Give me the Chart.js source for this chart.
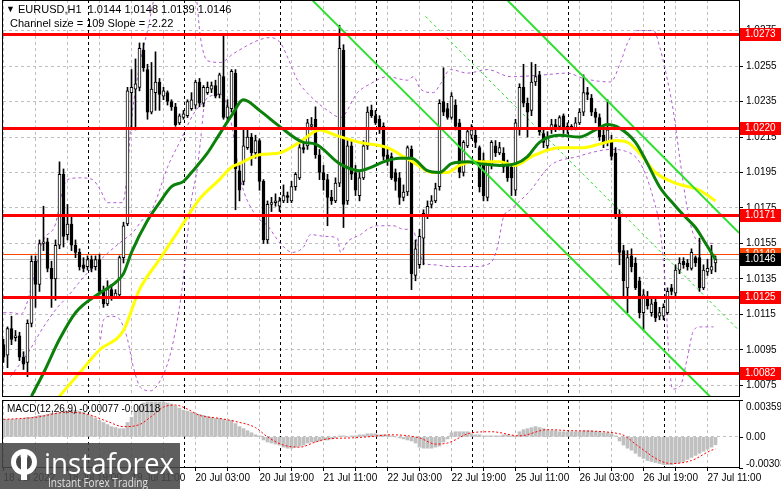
<!DOCTYPE html>
<html><head><meta charset="utf-8">
<script src="https://cdn.jsdelivr.net/npm/chart.js@4.4.0/dist/chart.umd.min.js"></script>
<style>
html,body{margin:0;padding:0;background:#fff;width:781px;height:489px;overflow:hidden}
#w{position:relative;width:781px;height:489px;background:#fff}
#c1{position:absolute;left:0;top:0}
#c2{position:absolute;left:0;top:398px}
</style></head><body><div id="w"><canvas id="c1" width="781" height="398"></canvas><canvas id="c2" width="781" height="91"></canvas></div>
<script>
// ---------- DATA ----------
const symbolTitle = 'EURUSD,H1  1.0144 1.0148 1.0139 1.0146';
const channelTitle = 'Channel size = 109 Slope = -2.22';
const macdTitle = 'MACD(12,26,9) -0.00077 -0.00118';
const timeLabels = ['18 Jul 2022','18 Jul 19:00','19 Jul 11:00','20 Jul 03:00','20 Jul 19:00','21 Jul 11:00','22 Jul 03:00','22 Jul 19:00','25 Jul 11:00','26 Jul 03:00','26 Jul 19:00','27 Jul 11:00'];
const dayStartIdx = [21,45,69,93,117,141,165];
const priceTicks = [1.0075,1.0095,1.0115,1.0135,1.0155,1.0175,1.0195,1.0215,1.0235,1.0255,1.0275];
const levels = [1.0273,1.0220,1.0171,1.0125,1.0082];
const askPrice = 1.0149, bidPrice = 1.0146;
const macdTickLabels = ['0.00359','0.00','-0.00303'];
const macdMax = 0.00359, macdMin = -0.00303;

const opens = [1.0098,1.0092,1.0107,1.0102,1.0103,1.0091,1.0088,1.0110,1.0145,1.0132,1.0155,1.0156,1.0141,1.0135,1.0154,1.0194,1.0160,1.0166,1.0154,1.0150,
1.0143,1.0142,1.0146,1.0142,1.0146,1.0128,1.0121,1.0129,1.0125,1.0126,1.0147,1.0166,1.0240,1.0242,1.0243,1.0264,1.0253,1.0229,1.0240,1.0246,
1.0238,1.0240,1.0235,1.0232,1.0223,1.0226,1.0227,1.0231,1.0233,1.0246,1.0234,1.0240,1.0242,1.0244,1.0239,1.0249,1.0226,1.0231,1.0251,1.0196,
1.0190,1.0209,1.0215,1.0206,1.0213,1.0190,1.0157,1.0177,1.0178,1.0176,1.0179,1.0182,1.0179,1.0187,1.0192,1.0209,1.0210,1.0221,1.0225,1.0205,
1.0195,1.0191,1.0181,1.0179,1.0189,1.0264,1.0179,1.0210,1.0195,1.0182,1.0192,1.0210,1.0230,1.0227,1.0225,1.0221,1.0205,1.0204,1.0195,1.0192,
1.0181,1.0184,1.0208,1.0137,1.0143,1.0158,1.0171,1.0177,1.0179,1.0187,1.0235,1.0231,1.0226,1.0233,1.0223,1.0195,1.0210,1.0216,1.0216,1.0209,
1.0202,1.0181,1.0199,1.0210,1.0206,1.0206,1.0199,1.0198,1.0185,1.0219,1.0243,1.0234,1.0230,1.0246,1.0250,1.0217,1.0210,1.0219,1.0222,1.0221,
1.0227,1.0219,1.0221,1.0220,1.0223,1.0229,1.0240,1.0237,1.0229,1.0226,1.0216,1.0212,1.0213,1.0206,1.0171,1.0151,1.0130,1.0148,1.0144,1.0134,
1.0116,1.0125,1.0116,1.0122,1.0114,1.0114,1.0116,1.0130,1.0127,1.0140,1.0145,1.0144,1.0141,1.0147,1.0147,1.0130,1.0139,1.0140,1.0144];
const highs = [1.0101,1.0108,1.0114,1.0106,1.0105,1.0094,1.0112,1.0148,1.0148,1.0157,1.0176,1.0158,1.0145,1.0157,1.0201,1.0197,1.0177,1.0171,1.0157,1.0152,
1.0147,1.0148,1.0148,1.0148,1.0149,1.0131,1.0134,1.0132,1.0129,1.0148,1.0167,1.0243,1.0253,1.0259,1.0268,1.0268,1.0256,1.0257,1.0263,1.0248,
1.0243,1.0241,1.0236,1.0234,1.0228,1.0230,1.0236,1.0240,1.0247,1.0248,1.0244,1.0246,1.0246,1.0247,1.0251,1.0272,1.0236,1.0253,1.0253,1.0199,
1.0220,1.0219,1.0217,1.0216,1.0214,1.0191,1.0179,1.0181,1.0183,1.0181,1.0188,1.0184,1.0190,1.0195,1.0212,1.0212,1.0225,1.0226,1.0232,1.0208,
1.0199,1.0194,1.0185,1.0192,1.0278,1.0267,1.0213,1.0213,1.0199,1.0195,1.0213,1.0232,1.0233,1.0230,1.0227,1.0223,1.0208,1.0206,1.0197,1.0195,
1.0188,1.0210,1.0210,1.0157,1.0163,1.0174,1.0179,1.0182,1.0189,1.0236,1.0254,1.0234,1.0240,1.0236,1.0225,1.0213,1.0220,1.0222,1.0219,1.0210,
1.0206,1.0201,1.0213,1.0213,1.0212,1.0209,1.0202,1.0200,1.0225,1.0245,1.0256,1.0237,1.0257,1.0256,1.0252,1.0220,1.0218,1.0225,1.0225,1.0227,
1.0228,1.0223,1.0222,1.0226,1.0231,1.0250,1.0243,1.0239,1.0231,1.0228,1.0219,1.0236,1.0216,1.0209,1.0174,1.0154,1.0151,1.0152,1.0147,1.0136,
1.0129,1.0128,1.0124,1.0124,1.0119,1.0121,1.0130,1.0132,1.0143,1.0147,1.0147,1.0146,1.0152,1.0148,1.0158,1.0143,1.0146,1.0154,1.0148];
const lows = [1.0088,1.0085,1.0098,1.0100,1.0089,1.0084,1.0080,1.0108,1.0119,1.0128,1.0151,1.0139,1.0119,1.0123,1.0152,1.0153,1.0157,1.0151,1.0147,1.0140,
1.0139,1.0140,1.0139,1.0140,1.0126,1.0119,1.0120,1.0123,1.0125,1.0125,1.0144,1.0165,1.0219,1.0219,1.0241,1.0252,1.0225,1.0228,1.0230,1.0230,
1.0236,1.0233,1.0230,1.0221,1.0222,1.0225,1.0226,1.0230,1.0231,1.0232,1.0232,1.0239,1.0240,1.0237,1.0237,1.0225,1.0223,1.0229,1.0174,1.0179,
1.0188,1.0208,1.0199,1.0203,1.0185,1.0155,1.0155,1.0173,1.0176,1.0173,1.0178,1.0178,1.0178,1.0185,1.0191,1.0206,1.0208,1.0219,1.0203,1.0191,
1.0185,1.0165,1.0177,1.0178,1.0187,1.0164,1.0177,1.0191,1.0182,1.0179,1.0191,1.0208,1.0226,1.0222,1.0217,1.0202,1.0199,1.0191,1.0185,1.0177,
1.0179,1.0182,1.0129,1.0134,1.0141,1.0143,1.0169,1.0175,1.0178,1.0185,1.0227,1.0225,1.0225,1.0219,1.0192,1.0193,1.0209,1.0214,1.0209,1.0184,
1.0179,1.0179,1.0197,1.0204,1.0205,1.0195,1.0190,1.0182,1.0182,1.0216,1.0232,1.0215,1.0227,1.0244,1.0216,1.0209,1.0208,1.0217,1.0218,1.0219,
1.0217,1.0217,1.0219,1.0219,1.0222,1.0227,1.0236,1.0227,1.0223,1.0213,1.0209,1.0210,1.0202,1.0169,1.0143,1.0124,1.0116,1.0139,1.0129,1.0113,
1.0106,1.0118,1.0114,1.0111,1.0112,1.0112,1.0115,1.0126,1.0125,1.0138,1.0141,1.0140,1.0140,1.0142,1.0128,1.0129,1.0137,1.0138,1.0139];
const closes = [1.0091,1.0107,1.0101,1.0103,1.0091,1.0087,1.0110,1.0145,1.0132,1.0155,1.0156,1.0141,1.0135,1.0154,1.0194,1.0159,1.0166,1.0154,1.0150,1.0142,
1.0141,1.0146,1.0141,1.0146,1.0128,1.0121,1.0129,1.0125,1.0127,1.0147,1.0165,1.0241,1.0243,1.0245,1.0265,1.0254,1.0229,1.0242,1.0246,1.0239,
1.0241,1.0235,1.0232,1.0222,1.0227,1.0228,1.0235,1.0236,1.0246,1.0234,1.0243,1.0243,1.0244,1.0238,1.0250,1.0226,1.0232,1.0252,1.0197,1.0185,
1.0210,1.0215,1.0206,1.0213,1.0190,1.0157,1.0177,1.0178,1.0179,1.0179,1.0182,1.0181,1.0187,1.0194,1.0209,1.0208,1.0223,1.0222,1.0205,1.0195,
1.0191,1.0181,1.0179,1.0189,1.0265,1.0177,1.0210,1.0194,1.0185,1.0192,1.0210,1.0229,1.0227,1.0223,1.0219,1.0204,1.0202,1.0192,1.0190,1.0181,
1.0184,1.0209,1.0138,1.0152,1.0159,1.0172,1.0176,1.0179,1.0186,1.0234,1.0229,1.0226,1.0238,1.0221,1.0195,1.0212,1.0218,1.0219,1.0212,1.0187,
1.0182,1.0201,1.0212,1.0206,1.0209,1.0198,1.0192,1.0192,1.0223,1.0243,1.0234,1.0229,1.0246,1.0249,1.0218,1.0212,1.0215,1.0222,1.0220,1.0226,
1.0219,1.0221,1.0220,1.0223,1.0229,1.0240,1.0239,1.0229,1.0226,1.0215,1.0212,1.0219,1.0204,1.0171,1.0150,1.0134,1.0147,1.0142,1.0130,1.0116,
1.0126,1.0120,1.0121,1.0113,1.0116,1.0119,1.0128,1.0128,1.0140,1.0144,1.0143,1.0142,1.0150,1.0144,1.0130,1.0140,1.0141,1.0142,1.0146];

// moving averages / bands / channel read at sample candles: [candle index, price]
const greenMa = [[7,1.0069],[10,1.0082],[14,1.0101],[18,1.0116],[24,1.0127],[28,1.0133],[30,1.0138],[32,1.0150],[36,1.0168],[39,1.0178],[42,1.0187],[45,1.0190],[47,1.0195],[51,1.0206],[53,1.0213],[57,1.0227],[60,1.0236],[64,1.0230],[69,1.0221],[75,1.0212],[78,1.0211],[84,1.0200],[89,1.0196],[92,1.0198],[95,1.0201],[99,1.0203],[102,1.0203],[106,1.0196],[109,1.0195],[112,1.0200],[116,1.0201],[119,1.0200],[124,1.0199],[128,1.0200],[131,1.0204],[134,1.0212],[139,1.0216],[144,1.0215],[148,1.0219],[151,1.0222],[154,1.0220],[158,1.0212],[161,1.0200],[164,1.0187],[168,1.0176],[170,1.0171],[173,1.0164],[175,1.0157],[178,1.0146]];
const yellowMa = [[14,1.0069],[19,1.0082],[24,1.0095],[30,1.0106],[34,1.0129],[39,1.0146],[44,1.0163],[49,1.0180],[54,1.0191],[57,1.0198],[59,1.0200],[64,1.0205],[69,1.0206],[74,1.0212],[79,1.0219],[83,1.0216],[89,1.0212],[96,1.0209],[100,1.0204],[103,1.0200],[107,1.0195],[111,1.0195],[114,1.0199],[118,1.0201],[124,1.0201],[128,1.0199],[132,1.0204],[139,1.0209],[145,1.0209],[149,1.0211],[153,1.0213],[156,1.0212],[159,1.0206],[163,1.0195],[168,1.0189],[174,1.0185],[178,1.0179]];
const bandUpper = [[0,1.0116],[2.5,1.0116],[4.25,1.0115],[10,1.0157],[13,1.0166],[14.75,1.0185],[16,1.0191],[19.25,1.0192],[22.25,1.0191],[24.25,1.0185],[26,1.0178],[29.75,1.0178],[31,1.0196],[31.75,1.0219],[34.25,1.0258],[36,1.0275],[37.25,1.0289],[39.25,1.0309],[44.25,1.0315],[48,1.0298],[49.25,1.0271],[51,1.0258],[54.25,1.0257],[57.5,1.0262],[64.25,1.0270],[66.75,1.0271],[69.25,1.0268],[71,1.0260],[73.5,1.0247],[76.75,1.0238],[81,1.0230],[84.25,1.0226],[88.5,1.0240],[91.75,1.0245],[96,1.0249],[101,1.0247],[102.5,1.0249],[104.25,1.0242],[107.5,1.0240],[109.25,1.0245],[111.75,1.0253],[116,1.0251],[121,1.0253],[126.75,1.0249],[135,1.0250],[141,1.0251],[145,1.0248],[151.75,1.0246],[154.25,1.0257],[156,1.0268],[158.5,1.0275],[162.5,1.0275],[164.25,1.0264],[166,1.0247],[167.5,1.0229],[169.25,1.0200],[171,1.0174],[172.5,1.0160],[174.25,1.0156],[177.5,1.0155]];
const bandLower = [[24.25,1.0101],[25,1.0112],[26.75,1.0114],[28.75,1.0113],[30,1.0108],[31,1.0101],[32.5,1.0085],[34.25,1.0074],[36.75,1.0072],[39.25,1.0078],[41.75,1.0093],[44.25,1.0123],[45.5,1.0147],[46.75,1.0176],[48.5,1.0198],[49.25,1.0213],[50.5,1.0236],[54.25,1.0239],[56.75,1.0225],[59.25,1.0191],[63,1.0171],[66,1.0165],[69.25,1.0155],[72.25,1.0150],[75,1.0153],[76.75,1.0160],[80.5,1.0159],[83.5,1.0158],[84.25,1.0150],[86,1.0156],[89.25,1.0160],[91,1.0163],[93.5,1.0165],[97.5,1.0165],[100,1.0163],[102.25,1.0163],[103.5,1.0155],[105,1.0144],[107.5,1.0143],[111.75,1.0142],[117.5,1.0142],[121.75,1.0144],[123.5,1.0153],[125,1.0170],[126.75,1.0174],[131.75,1.0185],[136.75,1.0199],[143.5,1.0204],[148.5,1.0207],[151.75,1.0208],[155.5,1.0207],[159.25,1.0200],[162.5,1.0180],[164.25,1.0161],[165.5,1.0129],[166.25,1.0095],[167.25,1.0073],[169.25,1.0075],[171,1.0091],[172.5,1.0106],[174.25,1.0108],[177.5,1.0108]];
const bandExtra = [[1.75,1.0080],[6,1.0093],[10,1.0108],[13.5,1.0119],[16,1.0125],[19.25,1.0134],[22.5,1.0142],[26.75,1.0151],[30,1.0157],[32.25,1.0161],[34.25,1.0167],[37.5,1.0176],[41,1.0198],[44.25,1.0213],[47.5,1.0228],[50.5,1.0236]];
const channelLow = [[77.25,1.0292],[176.75,1.00685]];
const channelHigh = [[126,1.0292],[183.875,1.0161]];
const channelMid = [[105.5,1.0283],[183.875,1.0106]];

const macdHist = [0.0017,0.0017,0.0017,0.0017,0.0017,0.0018,0.0019,0.0019,0.0020,0.0021,0.0021,0.0022,0.0023,0.0023,0.0024,0.0025,0.0025,0.0026,0.0026,0.0025,
0.0024,0.0022,0.0020,0.0018,0.0016,0.0014,0.0012,0.0010,0.0009,0.0008,0.0008,0.0014,0.0019,0.0025,0.0030,0.0033,0.0034,0.0034,0.0034,0.0034,
0.0034,0.0033,0.0032,0.0030,0.0028,0.0026,0.0025,0.0024,0.0023,0.0022,0.0021,0.0020,0.0019,0.0018,0.0018,0.0017,0.0016,0.0016,0.0013,0.0010,
0.0008,0.0006,0.0004,0.0002,0.0001,-0.0003,-0.0005,-0.0006,-0.0007,-0.0008,-0.0010,-0.0011,-0.0011,-0.0010,-0.0009,-0.0008,-0.0006,-0.0005,-0.0005,-0.0004,
-0.0003,-0.0003,-0.0002,-0.0001,0.0001,0.0001,0.0000,0.0001,0.0001,0.0002,0.0002,0.0003,0.0003,0.0003,0.0002,0.0002,0.0002,0.0001,0.0000,-0.0001,
-0.0002,-0.0003,-0.0004,-0.0006,-0.0010,-0.0011,-0.0011,-0.0011,-0.0010,-0.0009,-0.0005,-0.0002,0.0004,0.0005,0.0005,0.0005,0.0005,0.0003,0.0002,0.0002,
0.0001,0.0001,0.0001,0.0001,0.0001,0.0002,0.0002,0.0001,0.0001,0.0005,0.0007,0.0008,0.0009,0.0010,0.0009,0.0008,0.0007,0.0006,0.0006,0.0005,
0.0005,0.0005,0.0005,0.0005,0.0005,0.0006,0.0006,0.0006,0.0005,0.0005,0.0004,0.0004,0.0003,0.0001,-0.0004,-0.0008,-0.0011,-0.0013,-0.0016,-0.0019,
-0.0021,-0.0023,-0.0024,-0.0025,-0.0026,-0.0027,-0.0027,-0.0027,-0.0026,-0.0025,-0.0024,-0.0022,-0.0020,-0.0018,-0.0016,-0.0014,-0.0012,-0.0010,-0.00077];
const macdSignal = [[0,0.0017],[8,0.0019],[16,0.0024],[21,0.0022],[26,0.0015],[30,0.0010],[34,0.0012],[37,0.0020],[40,0.0029],[43,0.0031],[46,0.0027],[49,0.0021],[54,0.0018],[58,0.0015],[63,0.0009],[66,0.0000],[70,-0.0008],[74,-0.0010],[78,-0.0005],[81,-0.0002],[87,-0.0001],[91,0.0000],[97,0.0002],[104,-0.0001],[108,-0.0007],[111,-0.0006],[117,0.0004],[122,0.0005],[129,0.0001],[136,0.0007],[142,0.0006],[154,0.0003],[159,-0.0010],[164,-0.0023],[167,-0.0026],[172,-0.0023],[177,-0.0013],[178,-0.00118]];

// ---------- STYLE ----------
const FONT = '"Liberation Sans", Arial, sans-serif';
const GRID = '#c0c0c0', PURPLE = '#b45cd6', LIME = '#2ee02e', RED = '#ff0000';
const X_MIN = -0.125, X_MAX = 183.875;
const gridIdx = []; for (let v = 0; v <= 176; v += 8) gridIdx.push(v);
const toXY = arr => arr.map(p => ({x: p[0], y: p[1]}));

const wicks = [], bodies = [], bodyBg = [];
for (let i = 0; i < closes.length; i++) {
  wicks.push({x: i, y: [lows[i], highs[i]]});
  bodies.push({x: i, y: [opens[i], closes[i]]});
  bodyBg.push(closes[i] >= opens[i] ? '#ffffff' : '#000000');
}

function vLines(chart, idxs, color, dash) {
  const {ctx, chartArea: a, scales: {x}} = chart;
  ctx.save(); ctx.strokeStyle = color; ctx.lineWidth = 1; ctx.setLineDash(dash);
  idxs.forEach(i => { const px = Math.round(x.getPixelForValue(i)) + 0.5;
    ctx.beginPath(); ctx.moveTo(px, a.top); ctx.lineTo(px, a.bottom); ctx.stroke(); });
  ctx.restore();
}
function frame(chart) {
  const {ctx, chartArea: a} = chart;
  ctx.save(); ctx.strokeStyle = '#000'; ctx.lineWidth = 1;
  ctx.strokeRect(a.left - 0.5, a.top + 0.5, a.right - a.left + 1, a.bottom - a.top - 1);
  ctx.restore();
}
function tagBox(ctx, y, text, bg) {
  ctx.fillStyle = bg; ctx.fillRect(740, Math.round(y) - 6, 41, 13);
  ctx.fillStyle = '#fff'; ctx.font = '10px ' + FONT; ctx.textBaseline = 'middle'; ctx.textAlign = 'left';
  ctx.fillText(text, 745, Math.round(y) + 0.5);
}
const noPad = s => { s.paddingTop = 0; s.paddingBottom = 0; };

const mainPlugin = {
  id: 'mainExtras',
  beforeDraw(chart) { const c = chart.ctx; c.save(); c.fillStyle = '#fff'; c.fillRect(0, 0, chart.width, chart.height); c.restore(); },
  beforeDatasetsDraw(chart) {
    const {ctx, chartArea: a, scales: {y}} = chart;
    vLines(chart, dayStartIdx, '#000', [3, 3]);
    ctx.save(); ctx.lineWidth = 1;
    ctx.strokeStyle = '#c0c0c0'; let py = Math.round(y.getPixelForValue(bidPrice)) + 0.5;
    ctx.beginPath(); ctx.moveTo(a.left, py); ctx.lineTo(a.right, py); ctx.stroke();
    ctx.strokeStyle = '#ff4500'; py = Math.round(y.getPixelForValue(askPrice)) + 0.5;
    ctx.beginPath(); ctx.moveTo(a.left, py); ctx.lineTo(a.right, py); ctx.stroke();
    ctx.restore();
  },
  afterDatasetsDraw(chart) {
    const {ctx, chartArea: a, scales: {y}} = chart;
    ctx.save();
    ctx.strokeStyle = RED; ctx.lineWidth = 3;
    levels.forEach(l => { const py = Math.round(y.getPixelForValue(l)) + 0.5;
      ctx.beginPath(); ctx.moveTo(a.left, py); ctx.lineTo(a.right, py); ctx.stroke(); });
    ctx.restore();
    frame(chart);
    ctx.save();
    levels.forEach(l => tagBox(ctx, y.getPixelForValue(l), l.toFixed(4), RED));
    tagBox(ctx, y.getPixelForValue(askPrice), askPrice.toFixed(4), '#ff4500');
    tagBox(ctx, y.getPixelForValue(bidPrice), bidPrice.toFixed(4), '#000');
    ctx.fillStyle = '#000'; ctx.textBaseline = 'middle'; ctx.textAlign = 'left';
    ctx.font = '9px ' + FONT; ctx.fillText('\u25BC', 6, 10);
    ctx.font = '11px ' + FONT; ctx.fillText(symbolTitle, 18, 10);
    ctx.fillText(channelTitle, 10, 24);
    ctx.restore();
  }
};

const lineDs = (data, color, width, order, dash) => ({type: 'line', data: toXY(data), borderColor: color, borderWidth: width,
  borderDash: dash || [], pointRadius: 0, fill: false, cubicInterpolationMode: 'monotone', order: order});

new Chart(document.getElementById('c1'), {
  type: 'bar',
  data: {datasets: [
    lineDs(bandUpper, PURPLE, 1, 6, [3, 3]),
    lineDs(bandLower, PURPLE, 1, 6, [3, 3]),
    lineDs(bandExtra, PURPLE, 1, 6, [3, 3]),
    lineDs(channelMid, LIME, 1, 6, [3, 3]),
    {type: 'bar', data: wicks, backgroundColor: '#000', barThickness: 1, grouped: false, order: 5},
    {type: 'bar', data: bodies, backgroundColor: bodyBg, borderColor: '#000', borderWidth: 1, borderSkipped: false,
      barThickness: 3, grouped: false, minBarLength: 1, order: 4},
    lineDs(yellowMa, '#ffff00', 3, 3),
    lineDs(greenMa, '#0b800b', 3, 2),
    lineDs(channelLow, LIME, 2, 1),
    lineDs(channelHigh, LIME, 2, 1)
  ]},
  options: {
    responsive: false, animation: false, events: [],
    layout: {padding: {left: 3, right: 0, top: 0, bottom: 1}},
    plugins: {legend: {display: false}, tooltip: {enabled: false}},
    scales: {
      x: {type: 'linear', min: X_MIN, max: X_MAX, offset: false,
        afterBuildTicks: s => { s.ticks = gridIdx.map(v => ({value: v})); },
        afterFit: s => { s.height = 0; s.paddingLeft = 0; s.paddingRight = 0; },
        ticks: {display: false}, grid: {color: GRID, drawTicks: false, offset: false}, border: {display: false, dash: [3, 3]}},
      y: {type: 'linear', position: 'right', min: 1.00685, max: 1.02922, beginAtZero: false,
        afterBuildTicks: s => { s.ticks = priceTicks.map(v => ({value: v})); },
        afterFit: s => { s.width = 42; noPad(s); },
        ticks: {color: '#000', font: {family: FONT, size: 10}, padding: 3, callback: v => Number(v).toFixed(4)},
        grid: {color: GRID, tickColor: '#000', tickLength: 4}, border: {display: false, dash: [3, 3]}}
    }
  },
  plugins: [mainPlugin]
});

// ---------- MACD ----------
const histData = macdHist.map((v, i) => ({x: i, y: v}));
const macdPlugin = {
  id: 'macdExtras',
  beforeDraw(chart) { const c = chart.ctx; c.save(); c.fillStyle = '#fff'; c.fillRect(0, 0, chart.width, chart.height); c.restore(); },
  beforeDatasetsDraw(chart) { vLines(chart, dayStartIdx, '#000', [3, 3]); },
  afterDatasetsDraw(chart) {
    const {ctx, chartArea: a, scales: {y}} = chart;
    frame(chart);
    ctx.save();
    ctx.fillStyle = '#000'; ctx.font = '10px ' + FONT; ctx.textAlign = 'left'; ctx.textBaseline = 'middle';
    ctx.fillText(macdTitle, 7, 11);
    const vals = [macdMax, 0, macdMin];
    const offs = [7, 0, -4];
    vals.forEach((v, k) => { const py = y.getPixelForValue(v);
      ctx.strokeStyle = '#000'; ctx.lineWidth = 1; ctx.beginPath(); ctx.moveTo(739, Math.round(py) + 0.5); ctx.lineTo(743, Math.round(py) + 0.5); ctx.stroke();
      ctx.fillText(macdTickLabels[k], 746, py + offs[k]); });
    // logo
    ctx.fillStyle = 'rgba(72,72,72,0.88)'; ctx.fillRect(0, 45, 180, 46);
    ctx.fillStyle = '#fff';
    ctx.beginPath(); ctx.arc(24, 64, 13, 0, Math.PI * 2); ctx.fill();
    ctx.fillStyle = 'rgba(72,72,72,1)';
    ctx.beginPath(); ctx.arc(24, 64, 8, 0, Math.PI * 2); ctx.fill();
    ctx.fillStyle = '#fff'; ctx.fillRect(21, 60, 6, 22); ctx.beginPath(); ctx.arc(24, 58, 3.5, 0, Math.PI * 2); ctx.fill();
    ctx.textBaseline = 'alphabetic';
    ctx.font = '30px "Open Sans", ' + FONT;
    let w = ctx.measureText('instaforex').width;
    ctx.save(); ctx.translate(44, 76); ctx.scale(130 / w, 1); ctx.fillText('instaforex', 0, 0); ctx.restore();
    ctx.fillStyle = '#e0e0e0'; ctx.font = '13px "Open Sans", ' + FONT;
    w = ctx.measureText('Instant Forex Trading').width;
    ctx.save(); ctx.translate(48, 89); ctx.scale(100 / w, 1); ctx.fillText('Instant Forex Trading', 0, 0); ctx.restore();
    ctx.restore();
  }
};

new Chart(document.getElementById('c2'), {
  type: 'bar',
  data: {datasets: [
    {type: 'bar', data: histData, backgroundColor: '#c0c0c0', barThickness: 3, grouped: false, order: 2},
    {type: 'line', data: toXY(macdSignal), borderColor: RED, borderWidth: 1, borderDash: [2, 2], pointRadius: 0, fill: false, cubicInterpolationMode: 'monotone', order: 1}
  ]},
  options: {
    responsive: false, animation: false, events: [],
    layout: {padding: {left: 3, right: 0, top: 2, bottom: 0}},
    plugins: {legend: {display: false}, tooltip: {enabled: false}},
    scales: {
      x: {type: 'linear', min: X_MIN, max: X_MAX, offset: false,
        afterBuildTicks: s => { s.ticks = gridIdx.map(v => ({value: v})); },
        afterFit: s => { s.height = 21; s.paddingLeft = 0; s.paddingRight = 0; },
        ticks: {display: true, autoSkip: false, maxRotation: 0, align: 'start', padding: 1, color: '#000',
          font: {family: FONT, size: 10}, callback: v => (v % 16 === 0 ? timeLabels[v / 16] : '')},
        grid: {color: GRID, tickColor: '#000', tickLength: 3, offset: false}, border: {display: false, dash: [3, 3]}},
      y: {type: 'linear', position: 'right', min: macdMin, max: macdMax, beginAtZero: false,
        afterBuildTicks: s => { s.ticks = [{value: 0}]; },
        afterFit: s => { s.width = 42; noPad(s); },
        ticks: {display: false}, grid: {color: GRID, drawTicks: false}, border: {display: false, dash: [3, 3]}}
    }
  },
  plugins: [macdPlugin]
});
</script></body></html>
